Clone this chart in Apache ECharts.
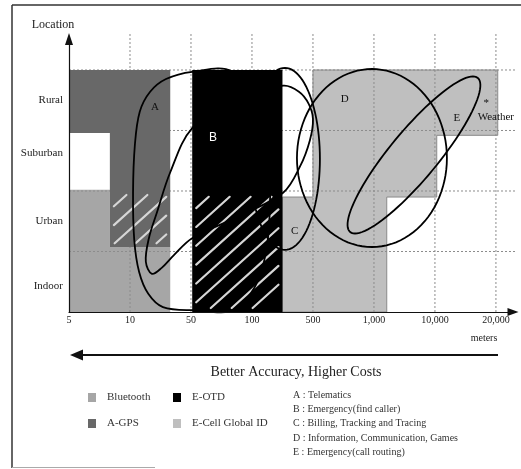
<!DOCTYPE html>
<html><head><meta charset="utf-8">
<script src="https://cdn.jsdelivr.net/npm/echarts@6/dist/echarts.min.js"></script>
<style>html,body{margin:0;padding:0;background:#fff}#c{width:521px;height:469px}</style>
</head><body><div id="c"></div>
<script>
// ---------- data ----------
const xTickLabels = ['5', '10', '50', '100', '500', '1,000', '10,000', '20,000'];
const yCategories = ['Indoor', 'Urban', 'Suburban', 'Rural'];
const yLabelPos = [0.42, 1.5, 2.62, 3.5];

const techNames = ['Bluetooth', 'A-GPS', 'E-OTD', 'E-Cell Global ID'];
const bluetoothArea = [[0, 0], [1.66, 0], [1.66, 1.07], [0.67, 1.07], [0.67, 2.02], [0, 2.02]];
const agpsArea = [[0, 4], [1.66, 4], [1.66, 1.07], [0.67, 1.07], [0.67, 2.96], [0, 2.96]];
const eotdArea = [[2.02, 0], [3.5, 0], [3.5, 4], [2.02, 4]];
const ecellArea = [[3.5, 0], [3.5, 1.9], [4.0, 1.9], [4.0, 4.0], [7.03, 4.0], [7.03, 2.92], [6.03, 2.92], [6.03, 1.9], [5.21, 1.9], [5.21, 0]];
const hatchAreas = [[0.67, 1.07, 1.66, 2.0], [2.02, 0, 3.5, 1.97]];

const gridXs = [1, 2, 3, 4, 5, 6, 7];
const gridYs = [1, 2, 3, 4];

// service areas: free outlines (A, B) and ellipses (C, D, E)
const outlineA = [[2.67, 3.98], [2.02, 3.97], [1.59, 3.85], [1.33, 3.64], [1.16, 3.31], [1.08, 2.76], [1.05, 1.97], [1.07, 1.19], [1.15, 0.66], [1.30, 0.30], [1.54, 0.08], [2.02, 0.03], [2.72, 0.05], [3.16, 0.69], [3.30, 2.02], [3.21, 3.34]];
const outlineB = [[1.36, 0.63], [1.26, 0.83], [1.31, 1.22], [1.44, 1.64], [1.66, 2.31], [2.02, 3.04], [2.72, 3.50], [3.51, 3.74], [3.77, 3.64], [3.93, 3.44], [4.0, 3.19], [3.95, 2.84], [3.79, 2.41], [3.51, 1.97], [2.80, 1.59], [2.02, 1.22], [1.72, 0.94], [1.52, 0.73]];
const ellipseNames = ['C', 'D', 'E'];
const ellipseCenters = [[3.54, 2.53], [4.967, 2.545], [5.656, 2.595]];
const ellipseAxisU = [[0.574, 0], [1.2295, 0], [1.046, 1.273]];
const ellipseAxisV = [[0, 1.504], [0, 1.471], [0.303, -0.253]];

const serviceKeys = ['A', 'B', 'C', 'D', 'E'];
const serviceNames = ['Telematics', 'Emergency(find caller)', 'Billing, Tracking and Tracing', 'Information, Communication, Games', 'Emergency(call routing)'];
const serviceLabelPos = [[1.41, 3.39], [2.36, 2.88], [3.70, 1.34], [4.52, 3.52], [6.36, 3.20]];
const weatherPos = [6.70, 3.22];
const weatherStarPos = [6.84, 3.46];

// ---------- rendering ----------
const SERIF = '"Liberation Serif", "DejaVu Serif", serif';
const chart = echarts.init(document.getElementById('c'));

function areaSeries(name, pts, color, stroke) {
  return {
    type: 'custom', name, clip: false, silent: true,
    itemStyle: { color },
    data: [[0, 0]],
    renderItem: (params, api) => ({
      type: 'polygon',
      shape: { points: pts.map(p => api.coord(p)) },
      style: { fill: api.visual('color'), stroke: stroke || null, lineWidth: stroke ? 1 : 0 }
    })
  };
}

function hatchLines(x0, y0, x1, y1, step, angleDeg) {
  const a = angleDeg * Math.PI / 180;
  const dx = Math.cos(a), dy = -Math.sin(a);
  const nx = -dy, ny = dx;
  const cs = [[x0, y0], [x1, y0], [x0, y1], [x1, y1]].map(p => p[0] * nx + p[1] * ny);
  const cmin = Math.min(...cs), cmax = Math.max(...cs);
  const out = [];
  for (let c = cmin + step * 0.6; c < cmax; c += step) {
    const px = c * nx, py = c * ny;
    let tmin = -Infinity, tmax = Infinity;
    [[px, dx, x0, x1], [py, dy, y0, y1]].forEach(([p, d, lo, hi]) => {
      if (Math.abs(d) < 1e-9) { if (p < lo || p > hi) { tmin = 1; tmax = 0; } }
      else {
        let t1 = (lo - p) / d, t2 = (hi - p) / d;
        if (t1 > t2) { const t = t1; t1 = t2; t2 = t; }
        tmin = Math.max(tmin, t1); tmax = Math.min(tmax, t2);
      }
    });
    if (tmax - tmin > 8) out.push([px + tmin * dx, py + tmin * dy, px + tmax * dx, py + tmax * dy]);
  }
  return out;
}

function ellipsePoints(api, c, u, v) {
  const pts = [];
  for (let i = 0; i < 96; i++) {
    const t = i / 96 * Math.PI * 2;
    pts.push(api.coord([c[0] + u[0] * Math.cos(t) + v[0] * Math.sin(t), c[1] + u[1] * Math.cos(t) + v[1] * Math.sin(t)]));
  }
  return pts;
}

function txt(x, y, text, font, fill, align) {
  return { type: 'text', x, y, style: { text, font, fill, align: align || 'center', verticalAlign: 'middle', textAlign: align || 'center', textVerticalAlign: 'middle' } };
}

const option = {
  animation: false,
  backgroundColor: '#fff',
  grid: { left: 69, top: 39, right: 8, bottom: 157, containLabel: false },
  xAxis: {
    type: 'value', min: 0, max: 7.28, interval: 1, z: 5,
    axisLine: { show: true, lineStyle: { color: '#111', width: 1.2 }, symbol: ['none', 'triangle'], symbolSize: [8, 11] },
    axisTick: { show: false }, splitLine: { show: false },
    axisLabel: {
      margin: 3, fontFamily: SERIF, fontSize: 10, color: '#222',
      formatter: v => (Math.abs(v - Math.round(v)) < 1e-6 && xTickLabels[Math.round(v)] !== undefined) ? xTickLabels[Math.round(v)] : ''
    }
  },
  yAxis: {
    type: 'value', min: 0, max: 4.512, z: 5,
    axisLine: { show: true, lineStyle: { color: '#111', width: 1.2 }, symbol: ['none', 'triangle'], symbolSize: [8, 12] },
    axisTick: { show: false }, splitLine: { show: false },
    axisLabel: {
      customValues: yLabelPos, margin: 6, fontFamily: SERIF, fontSize: 11, color: '#222',
      formatter: v => { const i = yLabelPos.findIndex(p => Math.abs(p - v) < 1e-6); return i >= 0 ? yCategories[i] : ''; }
    }
  },
  legend: [
    { data: ['Bluetooth'], left: 88, top: 392 },
    { data: ['E-OTD'], left: 173, top: 392 },
    { data: ['A-GPS'], left: 88, top: 418 },
    { data: ['E-Cell Global ID'], left: 173, top: 418 }
  ].map(l => Object.assign(l, {
    icon: 'rect', itemWidth: 8, itemHeight: 9, padding: 0, selectedMode: false,
    textStyle: { fontFamily: SERIF, fontSize: 11, color: '#333', padding: [0, 0, 0, 6] }
  })),
  series: [
    areaSeries(techNames[0], bluetoothArea, '#a6a6a6'),
    areaSeries(techNames[3], ecellArea, '#bfbfbf', '#8a8a8a'),
    {
      type: 'custom', name: 'grid', clip: false, silent: true, data: [[0, 0]],
      renderItem: (params, api) => {
        const children = [];
        gridXs.forEach(x => {
          const a = api.coord([x, 0]), b = api.coord([x, 4.61]);
          children.push({ type: 'line', shape: { x1: a[0], y1: a[1], x2: b[0], y2: b[1] }, style: { stroke: '#8c8c8c', lineWidth: 1, lineDash: [2, 2] } });
        });
        gridYs.forEach(y => {
          const a = api.coord([0, y]), b = api.coord([7.34, y]);
          children.push({ type: 'line', shape: { x1: a[0], y1: a[1], x2: b[0], y2: b[1] }, style: { stroke: '#8c8c8c', lineWidth: 1, lineDash: [2, 2] } });
        });
        return { type: 'group', children };
      }
    },
    areaSeries(techNames[1], agpsArea, '#686868'),
    areaSeries(techNames[2], eotdArea, '#000000'),
    {
      type: 'custom', name: 'hatch', clip: false, silent: true, data: [[0, 0]],
      renderItem: (params, api) => {
        const children = [];
        hatchAreas.forEach(r => {
          const tl = api.coord([r[0], r[3]]), br = api.coord([r[2], r[1]]);
          hatchLines(tl[0] + 4, tl[1] + 4, br[0] - 4, br[1] - 4, 14, 42).forEach(l => {
            children.push({ type: 'line', shape: { x1: l[0], y1: l[1], x2: l[2], y2: l[3] }, style: { stroke: '#d6d6d6', lineWidth: 2.2, lineCap: 'round' } });
          });
        });
        return { type: 'group', children };
      }
    },
    {
      type: 'custom', name: 'services', clip: false, silent: true, data: [[0, 0]],
      renderItem: (params, api) => {
        const st = { fill: null, stroke: '#000', lineWidth: 1.8 };
        const children = [
          { type: 'polygon', shape: { points: outlineA.map(p => api.coord(p)), smooth: 0.35 }, style: st },
          { type: 'polygon', shape: { points: outlineB.map(p => api.coord(p)), smooth: 0.35 }, style: st }
        ];
        ellipseCenters.forEach((c, i) => {
          children.push({ type: 'polygon', shape: { points: ellipsePoints(api, c, ellipseAxisU[i], ellipseAxisV[i]) }, style: st });
        });
        return { type: 'group', children };
      }
    },
    {
      type: 'custom', name: 'labels', clip: false, silent: true, data: [[0, 0]],
      renderItem: (params, api) => {
        const children = serviceKeys.map((k, i) => {
          const p = api.coord(serviceLabelPos[i]);
          return k === 'B'
            ? txt(p[0], p[1], k, '12px "Liberation Sans", sans-serif', '#fff')
            : txt(p[0], p[1], k, '11px ' + SERIF, '#111');
        });
        const s = api.coord(weatherStarPos), w = api.coord(weatherPos);
        children.push(txt(s[0], s[1], '*', '11px ' + SERIF, '#111'));
        children.push(txt(w[0], w[1], 'Weather', '11px ' + SERIF, '#111', 'left'));
        return { type: 'group', children };
      }
    }
  ],
  graphic: {
    elements: [
      { type: 'line', shape: { x1: 12, y1: 5, x2: 521, y2: 5 }, style: { stroke: '#333', lineWidth: 1.5 } },
      { type: 'line', shape: { x1: 12, y1: 5, x2: 12, y2: 468 }, style: { stroke: '#333', lineWidth: 1.5 } },
      { type: 'line', shape: { x1: 12, y1: 467.5, x2: 155, y2: 467.5 }, style: { stroke: '#aaa', lineWidth: 1 } },
      { type: 'text', x: 53, y: 25, style: { text: 'Location', font: '12px ' + SERIF, fill: '#222', textAlign: 'center', textVerticalAlign: 'middle', align: 'center', verticalAlign: 'middle' } },
      { type: 'text', x: 484, y: 338, style: { text: 'meters', font: '10px ' + SERIF, fill: '#222', textAlign: 'center', textVerticalAlign: 'middle', align: 'center', verticalAlign: 'middle' } },
      { type: 'line', shape: { x1: 80, y1: 355, x2: 498, y2: 355 }, style: { stroke: '#111', lineWidth: 2.2 } },
      { type: 'polygon', shape: { points: [[70, 355], [83, 349.5], [83, 360.5]] }, style: { fill: '#111' } },
      { type: 'text', x: 296, y: 372, style: { text: 'Better Accuracy, Higher Costs', font: '14px ' + SERIF, fill: '#222', textAlign: 'center', textVerticalAlign: 'middle', align: 'center', verticalAlign: 'middle' } }
    ].concat(serviceKeys.map((k, i) => ({
      type: 'text', x: 293, y: 395 + i * 14.3,
      style: { text: k + ' : ' + serviceNames[i], font: '10px ' + SERIF, fill: '#333', textAlign: 'left', textVerticalAlign: 'middle', align: 'left', verticalAlign: 'middle' }
    })))
  }
};
chart.setOption(option);
</script>
</body></html>
